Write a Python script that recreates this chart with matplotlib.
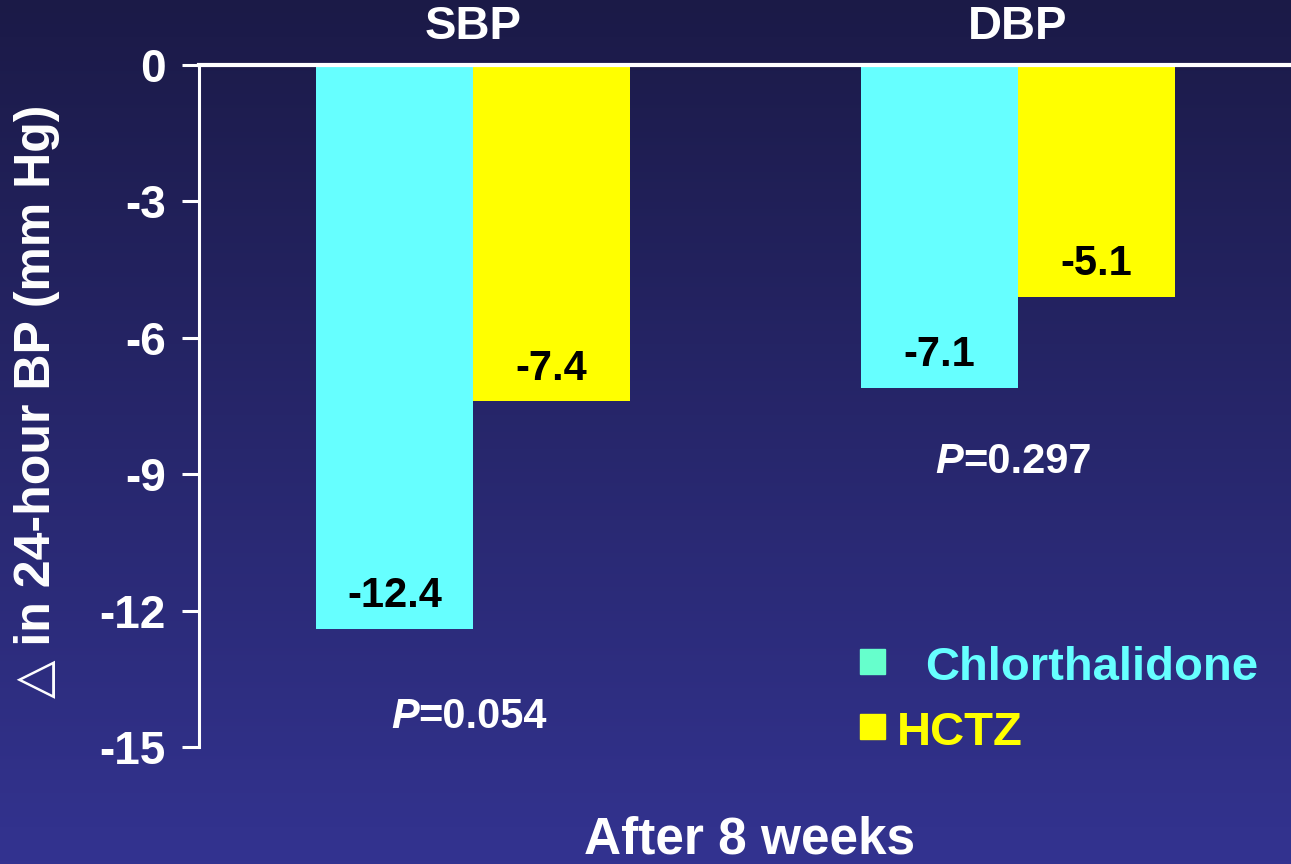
import numpy as np
import matplotlib
matplotlib.use('Agg')
import matplotlib.pyplot as plt
from matplotlib.patches import Rectangle

plt.rcParams['font.family'] = ['Liberation Sans', 'DejaVu Sans']
plt.rcParams['font.weight'] = 'bold'

# 8주 후 24시간 혈압 변화
groups = ['SBP', 'DBP']
chlorthalidone = [-12.4, -7.1]
hctz = [-7.4, -5.1]
p_values = ['0.054', '0.297']
p_label_y = [-14.35, -8.73]
yticks = [0, -3, -6, -9, -12, -15]

CYAN = '#66ffff'
YELLOW = '#ffff00'

fig = plt.figure(figsize=(12.91, 8.64), dpi=100)

# 배경 그라데이션
bg = fig.add_axes([0, 0, 1, 1], zorder=-10)
grad = np.linspace(0, 1, 256).reshape(-1, 1)
top = np.array([0x1b, 0x1a, 0x47]) / 255
bottom = np.array([0x33, 0x33, 0x90]) / 255
img = top + (bottom - top) * grad[..., None]
bg.imshow(img.reshape(256, 1, 3), aspect='auto', extent=[0, 1, 0, 1])
bg.set_axis_off()

ax = fig.add_axes([199 / 1291, 117 / 864, 1092 / 1291, 682 / 864])
ax.set_facecolor('none')

x = np.arange(len(groups))
w = 0.288
b1 = ax.bar(x - w / 2, chlorthalidone, w, color=CYAN)
b2 = ax.bar(x + w / 2, hctz, w, color=YELLOW)

for bars, vals in ((b1, chlorthalidone), (b2, hctz)):
    for bar, v in zip(bars, vals):
        ax.text(bar.get_x() + bar.get_width() / 2, v + 0.72, f'{v}',
                ha='center', va='center', fontsize=30, fontweight='bold', color='black')

# P 값 (P는 이탤릭)
for xi, p, py in zip(x, p_values, p_label_y):
    ax.text(xi - 0.10, py, '=' + p, ha='left', va='center', fontsize=30,
            fontweight='bold', color='white')
    ax.text(xi - 0.10, py, 'P', ha='right', va='center', fontsize=30,
            fontweight='bold', fontstyle='italic', color='white')

ax.set_xlim(-0.503, 1.501)
ax.set_ylim(-15, 0)
ax.set_yticks(yticks)
ax.set_yticklabels([str(t) for t in yticks])
ax.set_xticks([])

for xi, g in zip(x, groups):
    ax.text(xi, 1.055, g, transform=ax.get_xaxis_transform(), ha='center', va='center',
            fontsize=34, fontweight='bold', color='white')

for s in ['right', 'bottom']:
    ax.spines[s].set_visible(False)
ax.spines['left'].set_color('white')
ax.spines['left'].set_linewidth(2.2)
ax.spines['top'].set_color('white')
ax.spines['top'].set_linewidth(3)
ax.tick_params(axis='y', colors='white', length=12, width=2.2, pad=12, labelsize=33)
for lab in ax.get_yticklabels():
    lab.set_fontweight('bold')

ax.set_ylabel('\u25b3 in 24-hour BP (mm Hg)', fontsize=36, fontweight='bold', color='white')
ax.yaxis.set_label_coords(-0.127, 0.507)
ax.set_xlabel('After 8 weeks', fontsize=37, fontweight='bold', color='white')
ax.xaxis.set_label_coords(0.5046, -0.100)

# 범례
ax.add_patch(Rectangle((0.605, 0.107), 25 / 1092, 25 / 682, transform=ax.transAxes,
                       color='#66ffcc', clip_on=False))
ax.add_patch(Rectangle((0.605, 0.011), 25 / 1092, 25 / 682, transform=ax.transAxes,
                       color=YELLOW, clip_on=False))
ax.text(0.665, 0.116, 'Chlorthalidone', transform=ax.transAxes, ha='left', va='center',
        fontsize=34, fontweight='bold', color=CYAN)
ax.text(0.639, 0.021, 'HCTZ', transform=ax.transAxes, ha='left', va='center',
        fontsize=34, fontweight='bold', color=YELLOW)

fig.savefig('out.png', dpi=100)
